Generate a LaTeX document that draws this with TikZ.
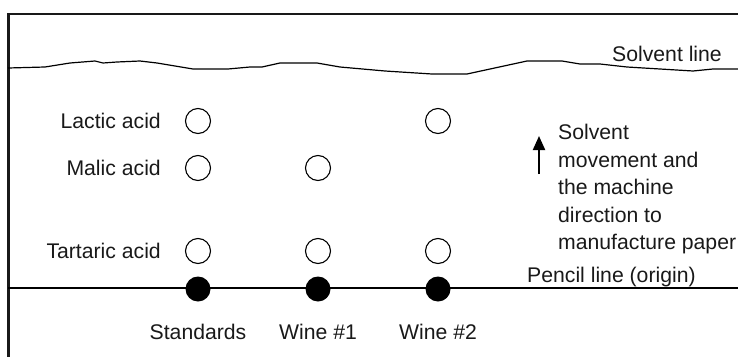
\documentclass[tikz,border=0pt]{standalone}
\usepackage{fontspec}
\setmainfont{Liberation Sans}
\usetikzlibrary{arrows.meta}
\begin{document}
\begin{tikzpicture}[x=1pt,y=-1pt,
  lbl/.style={font=\fontsize{21.2}{27.5}\selectfont, inner sep=0pt, text=black!90},
  spot/.style={circle, draw, line width=1.1pt, minimum size=25pt, inner sep=0pt},
  origin/.style={circle, fill=black, minimum size=25pt, inner sep=0pt},
  frame/.style={line width=2.3pt, draw=black!90},
  thin/.style={line width=1.2pt}]
\useasboundingbox (0,0) rectangle (738,356);
% frame (only left and top visible)
\draw[frame] (8.5,360) -- (8.5,14) -- (745,14);
% solvent line
\draw[thin] (8,68) -- (45,67) -- (70,63) -- (95,61) -- (103,63) -- (117,62) -- (140,61) -- (157,63) -- (193,69) -- (228,69) -- (250,67) -- (262,67) -- (280,63) -- (317,63) -- (340,67) -- (385,71) -- (432,74) -- (467,74) -- (527,61) -- (562,61) -- (580,64) -- (600,64) -- (627,67) -- (660,69) -- (693,71) -- (713,69) -- (745,69);
\node[lbl, anchor=base west] (solvline) at (612,61) {Solvent line};
% pencil line
\coordinate (pl) at (8,288);
\coordinate (pr) at (745,288);
\draw[thin] (pl) -- (pr);
\node[lbl, anchor=base west] (pencil) at (527,282) {Pencil line (origin)};
% origins
\node[origin] (o1) at (198,289) {};
\node[origin] (o2) at (318,289) {};
\node[origin] (o3) at (438,289) {};
\node[lbl, anchor=base] (std) at (198,339) {Standards};
\node[lbl, anchor=base] (w1) at (318,339) {Wine \#1};
\node[lbl, anchor=base] (w2) at (438,339) {Wine \#2};
% spots
\node[spot] (s11) at (198,121) {};
\node[spot] (s13) at (438,121) {};
\node[spot] (s21) at (198,168) {};
\node[spot] (s22) at (318,168) {};
\node[spot] (s31) at (198,251) {};
\node[spot] (s32) at (318,251) {};
\node[spot] (s33) at (438,251) {};
\node[lbl, anchor=base east] (lactic) at (161,128) {Lactic acid};
\node[lbl, anchor=base east] (malic) at (161,175) {Malic acid};
\node[lbl, anchor=base east] (tartaric) at (161,258) {Tartaric acid};
% arrow
\coordinate (a0) at (539,174);
\coordinate (a1) at (539,136);
\draw[line width=2pt, -{Triangle[length=14pt,width=12pt]}] (a0) -- (a1);
\node[lbl, anchor=north west, align=left] (move) at (558,124) {Solvent\\movement and\\the machine\\direction to\\manufacture paper};
\end{tikzpicture}
\end{document}
